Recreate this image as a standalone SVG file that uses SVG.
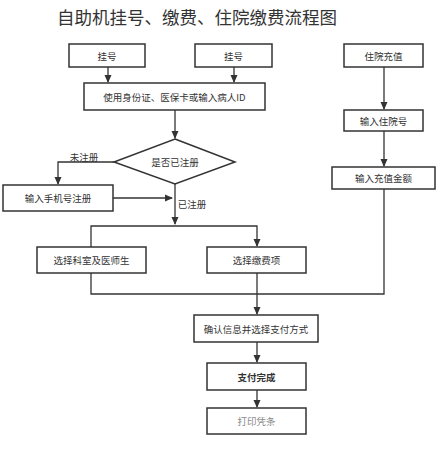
<svg xmlns="http://www.w3.org/2000/svg" width="443" height="452" viewBox="0 0 443 452">
<style>
.b{fill:#fff;stroke:#333;stroke-width:1.5}
.t{font-family:"Noto Sans CJK SC","Liberation Sans",sans-serif;font-size:9.5px;fill:#333;text-anchor:middle;dominant-baseline:central}
.c{fill:none;stroke:#333;stroke-width:1.3}
</style>
<defs>
<marker id="a" markerWidth="8" markerHeight="8" refX="7" refY="4" orient="auto" markerUnits="userSpaceOnUse">
<path d="M0,0.5 L8,4 L0,7.5 Z" fill="#333"/>
</marker>
</defs>
<rect width="443" height="452" fill="#fff"/>
<text x="197" y="16" style="font-family:'Noto Sans CJK SC',sans-serif;font-size:17.5px;fill:#333;text-anchor:middle;dominant-baseline:central">自助机挂号、缴费、住院缴费流程图</text>
<g id="connectors">
<path class="c" d="M108,67 V82" marker-end="url(#a)"/>
<path class="c" d="M234,67 V82" marker-end="url(#a)"/>
<path class="c" d="M384,67 V109" marker-end="url(#a)"/>
<path class="c" d="M175,110 V138" marker-end="url(#a)"/>
<path class="c" d="M384,131 V166" marker-end="url(#a)"/>
<path class="c" d="M114,162 H58 V184" marker-end="url(#a)"/>
<path class="c" d="M113,198 H172" marker-end="url(#a)"/>
<path class="c" d="M175,184 V224" marker-end="url(#a)"/>
<path class="c" d="M91,247 V226 H257 V246" marker-end="url(#a)"/>
<path class="c" d="M91,273 V294 H384 V189"/>
<path class="c" d="M257,273 V314" marker-end="url(#a)"/>
<path class="c" d="M257,342 V362" marker-end="url(#a)"/>
<path class="c" d="M257,390 V407" marker-end="url(#a)"/>
<text class="t" x="84" y="157">未注册</text>
<text class="t" x="192" y="204">已注册</text>
</g>
<g id="n1"><rect class="b" x="69" y="44" width="76" height="23"/><text class="t" x="107" y="55.5">挂号</text></g>
<g id="n2"><rect class="b" x="195" y="44" width="77" height="23"/><text class="t" x="233.5" y="55.5">挂号</text></g>
<g id="n3"><rect class="b" x="344" y="44" width="79" height="23"/><text class="t" x="383.5" y="55.5">住院充值</text></g>
<g id="n4"><rect class="b" x="84" y="83" width="181" height="27"/><text class="t" x="174.5" y="96.5">使用身份证、医保卡或输入病人ID</text></g>
<g id="n5"><rect class="b" x="344" y="110" width="79" height="21"/><text class="t" x="383.5" y="120.5">输入住院号</text></g>
<g id="n6"><polygon class="b" points="175,139 235,162 175,184 114,162"/><text class="t" x="175" y="162">是否已注册</text></g>
<g id="n7"><rect class="b" x="332" y="167" width="103" height="22"/><text class="t" x="383.5" y="178">输入充值金额</text></g>
<g id="n8"><rect class="b" x="3" y="185" width="110" height="26"/><text class="t" x="58" y="198">输入手机号注册</text></g>
<g id="n9"><rect class="b" x="37" y="247" width="109" height="26"/><text class="t" x="91.5" y="260">选择科室及医师生</text></g>
<g id="n10"><rect class="b" x="207" y="247" width="99" height="26"/><text class="t" x="256.5" y="260">选择缴费项</text></g>
<g id="n11"><rect class="b" x="194" y="315" width="124" height="27"/><text class="t" x="256" y="328.5">确认信息并选择支付方式</text></g>
<g id="n12"><rect class="b" x="207" y="363" width="99" height="27"/><text class="t" x="256.5" y="376.5" style="font-weight:bold">支付完成</text></g>
<g id="n13"><rect class="b" x="207" y="408" width="99" height="26"/><text class="t" x="256.5" y="421" style="fill:#888">打印凭条</text></g>
</svg>
